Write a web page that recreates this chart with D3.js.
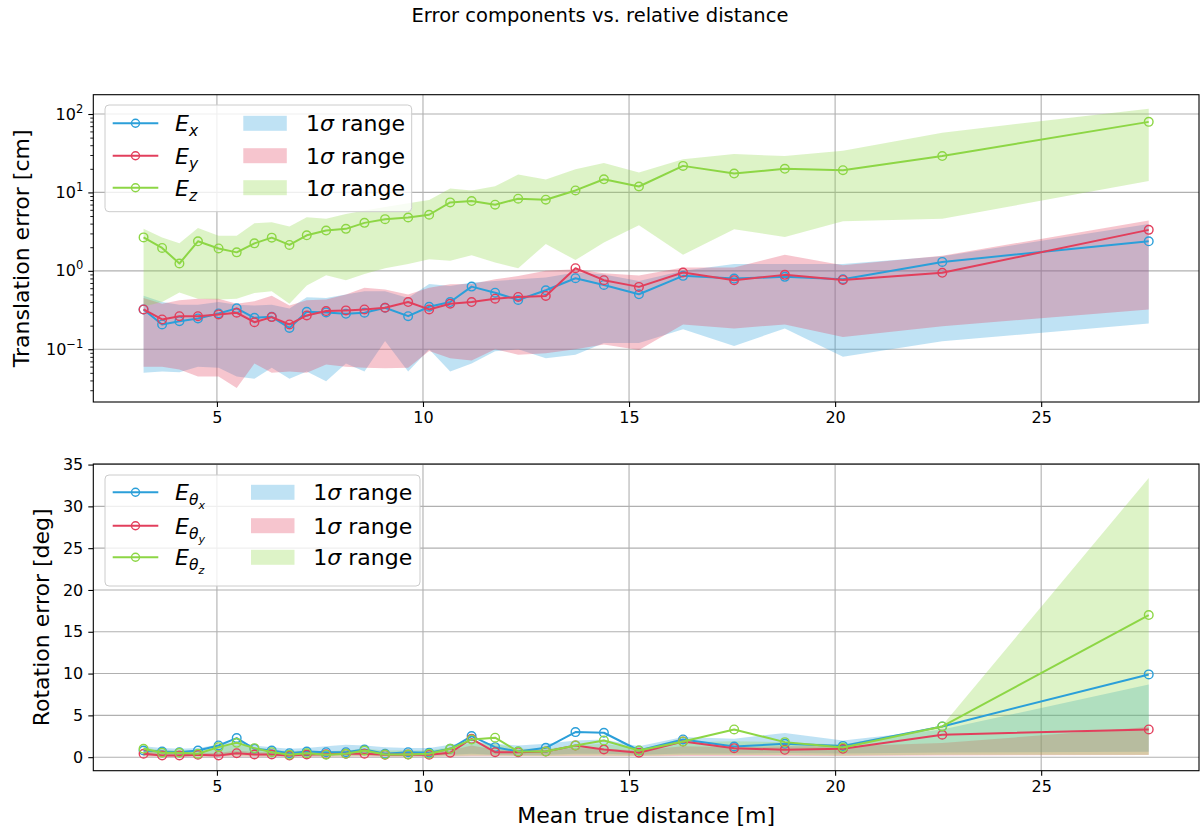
<!DOCTYPE html>
<html>
<head>
<meta charset="utf-8">
<script src="https://cdn.jsdelivr.net/npm/d3@7"></script>
<style>
  body { margin: 0; background: #fff; }
  svg { display: block; }
  text { font-family: "DejaVu Sans", sans-serif; fill: #000; }
</style>
</head>
<body>
<svg id="chart" width="1200" height="829"></svg>
<script>
// Mean true distance per bin [m]
const distance = [3.22, 3.67, 4.09, 4.54, 5.04, 5.48, 5.91, 6.33, 6.76, 7.18, 7.65, 8.13, 8.58, 9.08, 9.64,
  10.15, 10.66, 11.18, 11.75, 12.31, 12.98, 13.70, 14.39, 15.24, 16.31, 17.55, 18.78, 20.19, 22.60, 27.61];

// Translation error [cm]: mean and 1-sigma band
const ex   = [0.322, 0.207, 0.228, 0.247, 0.286, 0.332, 0.252, 0.259, 0.187, 0.300, 0.295, 0.283, 0.292, 0.338, 0.264,
  0.348, 0.400, 0.629, 0.526, 0.425, 0.565, 0.805, 0.661, 0.502, 0.863, 0.796, 0.838, 0.782, 1.30, 2.38];
const exHi = [0.48, 0.40, 0.37, 0.37, 0.40, 0.37, 0.36, 0.37, 0.33, 0.46, 0.45, 0.50, 0.55, 0.55, 0.45,
  0.68, 0.64, 0.71, 0.74, 0.78, 0.82, 0.95, 0.90, 0.74, 1.00, 1.22, 1.22, 1.22, 1.53, 3.97];
const exLo = [0.050, 0.052, 0.051, 0.060, 0.058, 0.045, 0.042, 0.058, 0.042, 0.052, 0.039, 0.066, 0.052, 0.127, 0.052,
  0.100, 0.052, 0.066, 0.094, 0.100, 0.077, 0.085, 0.120, 0.120, 0.180, 0.110, 0.184, 0.080, 0.126, 0.213];

const ey   = [0.322, 0.240, 0.264, 0.264, 0.278, 0.292, 0.221, 0.257, 0.207, 0.270, 0.307, 0.313, 0.322, 0.338, 0.400,
  0.322, 0.380, 0.400, 0.441, 0.464, 0.478, 1.08, 0.760, 0.624, 0.951, 0.760, 0.888, 0.766, 0.943, 3.33];
const eyHi = [0.45, 0.38, 0.42, 0.44, 0.44, 0.38, 0.41, 0.48, 0.36, 0.42, 0.43, 0.50, 0.61, 0.58, 0.50,
  0.61, 0.675, 0.68, 0.78, 0.86, 1.00, 1.05, 0.93, 0.87, 1.10, 1.10, 1.60, 1.18, 1.56, 4.38];
const eyLo = [0.060, 0.060, 0.055, 0.045, 0.045, 0.032, 0.066, 0.050, 0.052, 0.050, 0.064, 0.060, 0.058, 0.057, 0.058,
  0.095, 0.077, 0.072, 0.100, 0.085, 0.089, 0.100, 0.115, 0.098, 0.207, 0.184, 0.207, 0.143, 0.197, 0.322];

const ez   = [2.67, 1.96, 1.24, 2.38, 1.93, 1.72, 2.24, 2.65, 2.14, 2.84, 3.26, 3.43, 4.09, 4.56, 4.79,
  5.19, 7.46, 7.76, 6.97, 8.32, 8.08, 10.6, 14.7, 11.9, 21.8, 17.4, 20.0, 19.2, 29.1, 79.4];
const ezHi = [3.43, 2.67, 2.24, 3.53, 2.81, 2.81, 4.05, 4.17, 3.67, 4.83, 4.6, 5.3, 5.9, 6.5, 7.3,
  8.0, 11.2, 10.6, 12.0, 16.9, 14.6, 19.8, 23.8, 17.9, 26.4, 30.8, 29.1, 34.0, 57.8, 117];
const ezLo = [0.35, 0.40, 0.53, 0.44, 0.43, 0.44, 0.52, 0.55, 0.38, 0.65, 0.88, 0.76, 0.91, 1.08, 1.22,
  1.40, 1.34, 1.58, 1.28, 1.08, 2.2, 1.37, 2.3, 3.8, 1.6, 3.4, 2.7, 4.3, 4.6, 14.0];

// Rotation error [deg]: mean and 1-sigma band
const rx   = [0.80, 0.68, 0.60, 0.80, 1.40, 2.28, 1.00, 0.80, 0.48, 0.68, 0.60, 0.60, 0.92, 0.41, 0.60,
  0.53, 1.00, 2.52, 1.20, 0.68, 1.12, 3.00, 2.92, 0.80, 2.12, 1.28, 1.60, 1.35, 3.68, 9.9];
const rxHi = [1.3, 1.1, 1.0, 1.1, 1.5, 1.9, 1.4, 1.2, 1.0, 1.1, 1.3, 1.5, 1.4, 1.2, 1.1,
  1.1, 1.5, 1.9, 1.6, 1.4, 1.6, 2.0, 2.1, 1.3, 2.4, 2.2, 2.9, 2.0, 3.3, 8.7];
const rxLo = [0.25, 0.22, 0.20, 0.22, 0.30, 0.35, 0.30, 0.28, 0.20, 0.22, 0.22, 0.25, 0.30, 0.20, 0.22,
  0.20, 0.30, 0.40, 0.30, 0.30, 0.30, 0.40, 0.40, 0.30, 0.45, 0.45, 0.50, 0.45, 0.55, 0.65];

const ry   = [0.41, 0.20, 0.20, 0.29, 0.20, 0.48, 0.32, 0.32, 0.20, 0.32, 0.36, 0.41, 0.41, 0.29, 0.32,
  0.29, 0.53, 2.20, 0.60, 0.60, 0.68, 1.40, 0.92, 0.53, 1.88, 1.08, 0.88, 1.00, 2.68, 3.32];
const ryHi = [0.7, 0.5, 0.5, 0.5, 0.5, 0.8, 0.6, 0.6, 0.5, 0.6, 0.6, 0.7, 0.7, 0.6, 0.6,
  0.6, 0.8, 1.4, 0.9, 0.9, 0.9, 1.1, 1.0, 0.8, 1.3, 1.2, 1.3, 1.3, 1.7, 3.6];
const ryLo = [0.08, 0.05, 0.05, 0.06, 0.05, 0.08, 0.06, 0.06, 0.05, 0.06, 0.06, 0.07, 0.07, 0.06, 0.06,
  0.06, 0.08, 0.12, 0.10, 0.10, 0.10, 0.12, 0.12, 0.10, 0.15, 0.15, 0.15, 0.15, 0.20, 0.25];

const rz   = [1.00, 0.53, 0.53, 0.41, 1.20, 1.72, 1.08, 0.60, 0.29, 0.48, 0.30, 0.41, 0.80, 0.32, 0.32,
  0.41, 1.00, 2.12, 2.33, 0.68, 0.68, 1.40, 2.00, 0.80, 1.88, 3.32, 1.80, 1.15, 3.68, 17.0];
const rzHi = [1.2, 0.8, 0.8, 0.8, 1.2, 1.5, 1.2, 0.9, 0.7, 0.8, 0.7, 0.8, 1.0, 0.8, 0.8,
  0.8, 1.2, 1.7, 1.6, 1.0, 1.0, 1.4, 1.6, 1.0, 1.8, 1.9, 1.8, 1.5, 3.8, 33.4];
const rzLo = [0.15, 0.10, 0.10, 0.10, 0.15, 0.20, 0.15, 0.12, 0.10, 0.10, 0.10, 0.12, 0.15, 0.10, 0.10,
  0.10, 0.15, 0.20, 0.20, 0.15, 0.15, 0.20, 0.20, 0.15, 0.25, 0.25, 0.25, 0.20, 0.30, 0.30];

const xTicks = [5, 10, 15, 20, 25];
const logTicks = [0.1, 1, 10, 100];
const logTickExp = ["\u22121", "0", "1", "2"];
const linTicks = [0, 5, 10, 15, 20, 25, 30, 35];

const colors = { x: "#2b9fd9", y: "#e23f5c", z: "#8dd645" };
const bandOpacity = 0.3;

const svg = d3.select("#chart");

// Axes frames (pixel boxes)
const left = 93.3, right = 1199;
const topBox = { t: 94.7, b: 402 };
const botBox = { t: 464, b: 770.7 };

function padLinear(values) {
  const [lo, hi] = d3.extent(values);
  const m = (hi - lo) * 0.05;
  return [lo - m, hi + m];
}
function padLog(values) {
  const [lo, hi] = d3.extent(values).map(Math.log10);
  const m = (hi - lo) * 0.05;
  return [Math.pow(10, lo - m), Math.pow(10, hi + m)];
}

const x = d3.scaleLinear().domain(padLinear(distance)).range([left, right]);
const yTop = d3.scaleLog()
  .domain(padLog([].concat(ex, exHi, exLo, ey, eyHi, eyLo, ez, ezHi, ezLo)))
  .range([topBox.b, topBox.t]);
const yBot = d3.scaleLinear()
  .domain(padLinear([].concat(rx, rxHi, rxLo, ry, ryHi, ryLo, rz, rzHi, rzLo)))
  .range([botBox.b, botBox.t]);

function rows(mean, lo, hi) {
  return distance.map((d, i) => ({ x: d, m: mean[i], lo: lo[i], hi: hi[i] }));
}

function drawPanel(y, box, series, yTicksMajor, minorTicks) {
  const g = svg.append("g");
  const clipId = "clip" + Math.round(box.t);
  svg.append("clipPath").attr("id", clipId)
    .append("rect").attr("x", left).attr("y", box.t).attr("width", right - left).attr("height", box.b - box.t);

  // grid
  const grid = g.append("g").attr("stroke", "#b0b0b0").attr("stroke-width", 1.1);
  xTicks.forEach(t => grid.append("line")
    .attr("x1", x(t)).attr("x2", x(t)).attr("y1", box.t).attr("y2", box.b));
  yTicksMajor.forEach(t => grid.append("line")
    .attr("x1", left).attr("x2", right).attr("y1", y(t)).attr("y2", y(t)));

  const plot = g.append("g").attr("clip-path", `url(#${clipId})`);
  // 1-sigma bands
  series.forEach(s => {
    const area = d3.area().x(d => x(d.x)).y0(d => y(d.lo)).y1(d => y(d.hi));
    plot.append("path").datum(s.data).attr("d", area)
      .attr("fill", s.color).attr("fill-opacity", bandOpacity).attr("stroke", "none");
  });
  // mean lines with open circle markers
  series.forEach(s => {
    const line = d3.line().x(d => x(d.x)).y(d => y(d.m));
    plot.append("path").datum(s.data).attr("d", line)
      .attr("fill", "none").attr("stroke", s.color).attr("stroke-width", 2).attr("stroke-linejoin", "round");
    plot.selectAll(null).data(s.data).enter().append("circle")
      .attr("cx", d => x(d.x)).attr("cy", d => y(d.m)).attr("r", 4.3)
      .attr("fill", "none").attr("stroke", s.color).attr("stroke-width", 1.4);
  });

  // x axis
  const xa = g.append("g").attr("transform", `translate(0,${box.b})`)
    .call(d3.axisBottom(x).tickValues(xTicks).tickSize(5).tickPadding(5).tickFormat(d3.format("d")));
  xa.select(".domain").remove();
  xa.selectAll("line").attr("stroke", "#000").attr("stroke-width", 1.1);
  xa.selectAll("text").attr("font-size", 16).attr("font-family", "DejaVu Sans");

  // y axis
  if (minorTicks) {
    const ya = g.append("g").attr("transform", `translate(${left},0)`)
      .call(d3.axisLeft(y).tickValues(minorTicks).tickSize(3).tickFormat(""));
    ya.select(".domain").remove();
    ya.selectAll("line").attr("stroke", "#000").attr("stroke-width", 0.9);
  }
  const ya = g.append("g").attr("transform", `translate(${left},0)`)
    .call(d3.axisLeft(y).tickValues(yTicksMajor).tickSize(5).tickPadding(5));
  ya.select(".domain").remove();
  ya.selectAll("line").attr("stroke", "#000").attr("stroke-width", 1.1);
  ya.selectAll("text").attr("font-size", 16).attr("font-family", "DejaVu Sans");

  // frame
  g.append("rect").attr("x", left).attr("y", box.t).attr("width", right - left).attr("height", box.b - box.t)
    .attr("fill", "none").attr("stroke", "#000").attr("stroke-width", 1.1);
  return { g, ya };
}

function allMinor(domain) {
  const out = [];
  for (let e = -3; e <= 3; e++) for (let k = 2; k <= 9; k++) {
    const v = k * Math.pow(10, e);
    if (v >= domain[0] && v <= domain[1]) out.push(v);
  }
  return out;
}

const topSeries = [
  { color: colors.x, data: rows(ex, exLo, exHi) },
  { color: colors.y, data: rows(ey, eyLo, eyHi) },
  { color: colors.z, data: rows(ez, ezLo, ezHi) }
];
const botSeries = [
  { color: colors.x, data: rows(rx, rxLo, rxHi) },
  { color: colors.y, data: rows(ry, ryLo, ryHi) },
  { color: colors.z, data: rows(rz, rzLo, rzHi) }
];

const topPanel = drawPanel(yTop, topBox, topSeries, logTicks, allMinor(yTop.domain()));
// power-of-ten labels
topPanel.ya.selectAll(".tick text").each(function(d) {
  const t = d3.select(this).text("");
  t.append("tspan").text("10");
  t.append("tspan").attr("font-size", 11.5).attr("dy", -7).text(logTickExp[logTicks.indexOf(d)]);
});
drawPanel(yBot, botBox, botSeries, linTicks, null);

// Titles and axis labels
svg.append("text").attr("x", 600).attr("y", 22).attr("text-anchor", "middle")
  .attr("font-size", 19.5).text("Error components vs. relative distance");
svg.append("text").attr("transform", `translate(29,${(topBox.t + topBox.b) / 2}) rotate(-90)`)
  .attr("text-anchor", "middle").attr("font-size", 22).text("Translation error [cm]");
svg.append("text").attr("transform", `translate(49,${(botBox.t + botBox.b) / 2}) rotate(-90)`)
  .attr("text-anchor", "middle").attr("font-size", 22).text("Rotation error [deg]");
svg.append("text").attr("x", (left + right) / 2).attr("y", 823).attr("text-anchor", "middle")
  .attr("font-size", 22).text("Mean true distance [m]");

// Legends
function legend(box, labels, rowsY, patchX, textX) {
  const lg = svg.append("g");
  lg.append("rect").attr("x", box.x).attr("y", box.y).attr("width", box.w).attr("height", box.h)
    .attr("rx", 4).attr("fill", "#fff").attr("fill-opacity", 0.8).attr("stroke", "#cccccc").attr("stroke-width", 1);
  const cols = [colors.x, colors.y, colors.z];
  cols.forEach((c, i) => {
    const yy = rowsY[i];
    lg.append("line").attr("x1", 112.7).attr("x2", 158.3).attr("y1", yy).attr("y2", yy)
      .attr("stroke", c).attr("stroke-width", 2);
    lg.append("circle").attr("cx", 135.5).attr("cy", yy).attr("r", 4)
      .attr("fill", "none").attr("stroke", c).attr("stroke-width", 1.4);
    const t = lg.append("text").attr("x", 175).attr("y", yy + 8).attr("font-size", 22);
    labels[i](t);
    lg.append("rect").attr("x", patchX).attr("y", yy - 7.5).attr("width", 43.5).attr("height", 15)
      .attr("fill", c).attr("fill-opacity", bandOpacity);
    const r = lg.append("text").attr("x", textX).attr("y", yy + 8).attr("font-size", 22);
    r.append("tspan").text("1");
    r.append("tspan").attr("font-style", "italic").text("\u03c3");
    r.append("tspan").text(" range");
  });
}

const transLabels = ["x", "y", "z"].map(s => t => {
  t.append("tspan").attr("font-style", "italic").text("E");
  t.append("tspan").attr("font-style", "italic").attr("font-size", 15.5).attr("dy", 5).text(s);
});
const rotLabels = ["x", "y", "z"].map(s => t => {
  t.append("tspan").attr("font-style", "italic").text("E");
  t.append("tspan").attr("font-style", "italic").attr("font-size", 15.5).attr("dy", 5).text("\u03b8");
  t.append("tspan").attr("font-style", "italic").attr("font-size", 11).attr("dy", 4).text(s);
});

legend({ x: 105, y: 105, w: 306.7, h: 106.7 }, transLabels, [123.3, 155.7, 187.7], 243.3, 306);
legend({ x: 105, y: 475, w: 315, h: 111 }, rotLabels, [492.3, 525.7, 557.3], 251, 313.3);
</script>
</body>
</html>
